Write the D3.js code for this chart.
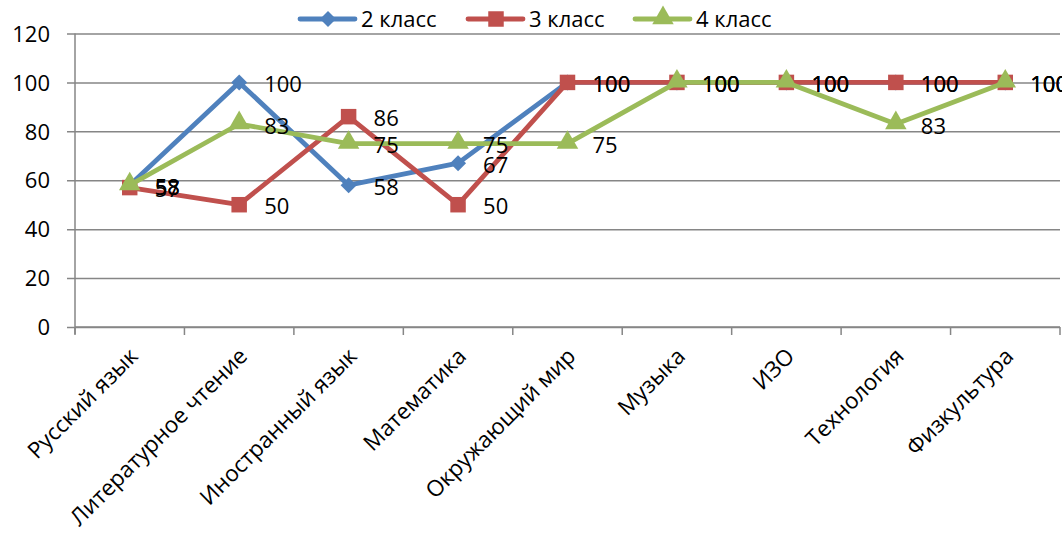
<!DOCTYPE html>
<html><head><meta charset="utf-8">
<script src="https://cdn.jsdelivr.net/npm/d3@7"></script>
<style>body{margin:0;background:#fff}svg{display:block}text{font-family:"Open Sans","Noto Sans",sans-serif;fill:#000}</style>
</head><body>
<svg id="c" width="1062" height="533"></svg>
<script>
const categories = ["Русский язык","Литературное чтение","Иностранный язык","Математика","Окружающий мир","Музыка","ИЗО","Технология","Физкультура"];
const seriesNames = ["2 класс","3 класс","4 класс"];
const values2 = [58,100,58,67,100,100,100,100,100];
const values3 = [57,50,86,50,100,100,100,100,100];
const values4 = [58,83,75,75,75,100,100,83,100];
const yTicks = [0,20,40,60,80,100,120];
const colors = ["#4F81BD","#C0504D","#9BBB59"];
const shapes = ["diamond","square","triangle"];

const series = [values2, values3, values4].map((v,i)=>({name:seriesNames[i], values:v, color:colors[i], shape:shapes[i]}));
const svg = d3.select("#c");
const pL = 75, pR = 1060, pT = 33.5, pB = 327;
const x = d3.scaleBand().domain(categories).range([pL,pR]);
const y = d3.scaleLinear().domain([0,120]).range([pB,pT]);
const cx = c => x(c) + x.bandwidth()/2;
function marker(sel, shape, color){
  if(shape==="diamond") sel.append("path").attr("d",d3.symbol().type(d3.symbolSquare).size(128)()).attr("transform","rotate(45)").attr("fill",color);
  else if(shape==="square") sel.append("path").attr("d",d3.symbol().type(d3.symbolSquare).size(240)()).attr("fill",color);
  else sel.append("path").attr("d",d3.symbol().type(d3.symbolTriangle).size(200)()).attr("transform","translate(0,-1)").attr("fill",color);
}

// gridlines
const yAxis = d3.axisLeft(y).tickValues(yTicks).tickSize(-(pR-pL)).tickPadding(25);
const gy = svg.append("g").attr("transform",`translate(${pL},0)`).call(yAxis);
gy.select(".domain").remove();
gy.selectAll(".tick line").attr("stroke","#868686").attr("stroke-width",1.5).attr("x1",-8);
gy.selectAll(".tick text").attr("font-size",22).attr("dy","0.35em");

// y axis line
svg.append("line").attr("x1",pL).attr("x2",pL).attr("y1",pT).attr("y2",pB+7).attr("stroke","#868686").attr("stroke-width",1.5);

// x axis
const gx = svg.append("g").attr("transform",`translate(0,${pB})`).call(d3.axisBottom(x).tickSize(0).tickFormat(""));
gx.select(".domain").attr("stroke","#868686").attr("stroke-width",1.5).attr("d",`M${pL},0H${pR}`);
const bounds = categories.map(c=>x(c)).concat([pR]);
svg.append("g").selectAll("line").data(bounds).join("line")
  .attr("x1",d=>d).attr("x2",d=>d).attr("y1",pB).attr("y2",pB+8)
  .attr("stroke","#868686").attr("stroke-width",1.5);
svg.append("g").selectAll("text").data(categories).join("text")
  .attr("transform",d=>`translate(${cx(d)+4},${pB+25}) rotate(-45)`)
  .attr("text-anchor","end").attr("font-size",22.5).attr("dy","0.35em").text(d=>d);

// lines
const line = d3.line().x((d,i)=>cx(categories[i])).y(d=>y(d));
series.forEach(s=>{
  svg.append("path").attr("d",line(s.values)).attr("fill","none").attr("stroke",s.color).attr("stroke-width",4.8).attr("stroke-linejoin","round");
  svg.append("g").selectAll("g").data(s.values).join("g")
    .attr("transform",(d,i)=>`translate(${cx(categories[i])},${y(d)})`)
    .each(function(){ marker(d3.select(this), s.shape, s.color); });
});
// labels
series.forEach(s=>{
  svg.append("g").selectAll("text").data(s.values).join("text")
    .attr("x",(d,i)=>cx(categories[i])+25).attr("y",d=>y(d)+2)
    .attr("dy","0.35em").attr("font-size",22).text(d=>d);
});

// legend
const legX = [300,468,635];
series.forEach((s,i)=>{
  const g = svg.append("g").attr("transform",`translate(${legX[i]},19)`);
  g.append("line").attr("x1",0).attr("x2",55).attr("stroke",s.color).attr("stroke-width",4.8).attr("stroke-linecap","round");
  marker(g.append("g").attr("transform","translate(28,0)"), s.shape, s.color);
  g.append("text").attr("x",61).attr("dy","0.35em").attr("font-size",22).text(s.name);
});
</script>
</body></html>
